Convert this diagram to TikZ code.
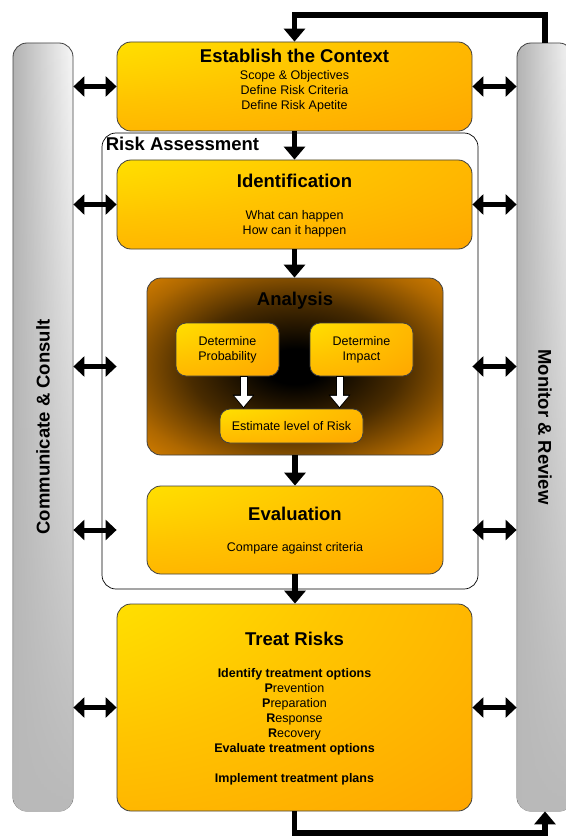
\documentclass[tikz,border=0pt]{standalone}
\usepackage{fontspec}
\setmainfont{Liberation Sans}
\usetikzlibrary{arrows.meta,calc,positioning,fadings}

\definecolor{stageyellow}{HTML}{FFF200}
\definecolor{stagegold}{HTML}{FFC400}
\definecolor{stageorange}{HTML}{FF9A00}
\definecolor{analysisorange}{HTML}{F29000}

% shadings for the stage boxes and the analysis panel
\pgfdeclareradialshading{stageglow}{\pgfpoint{-50bp}{50bp}}{%
  color(0bp)=(stageyellow); color(10bp)=(stageyellow); color(45bp)=(stagegold);
  color(85bp)=(stageorange); color(160bp)=(stageorange)}
\pgfdeclareradialshading{analysisglow}{\pgfpoint{0bp}{0bp}}{%
  color(0bp)=(black); color(5bp)=(black); color(18bp)=(analysisorange!30!black);
  color(30bp)=(analysisorange!72!black); color(41bp)=(analysisorange); color(75bp)=(analysisorange)}
% bars lose their sideways gradient towards the bottom
\tikzfading[name=fade up, top color=transparent!100, bottom color=transparent!0]

\newcommand{\stagefont}{\fontsize{18.5}{22}\selectfont\bfseries}
\newcommand{\bodyfont}{\fontsize{12.5}{15}\selectfont}

\tikzset{
  stagebox/.style={draw=black!75, line width=0.8pt, rounded corners=14pt, shade, shading=stageglow, inner sep=0pt},
  substage/.style={stagebox, rounded corners=10pt, align=center, font=\bodyfont},
  analysisbox/.style={draw=black!75, line width=0.8pt, rounded corners=14pt, shade, shading=analysisglow, inner sep=0pt},
  sidebar/.style={draw=black!75, line width=0.8pt, rounded corners=14pt, left color=gray!60, right color=gray!6, inner sep=0pt,
    postaction={fill=gray!55, path fading=fade up}},
  assessframe/.style={draw=black, line width=0.7pt, fill=white, rounded corners=14pt, inner sep=0pt},
  stagetext/.style={align=center, font=\bodyfont, inner sep=0pt},
  flow/.style={line width=5.5pt, -{Triangle[width=21pt,length=13pt]}},
  linkarrow/.style={line width=5pt, {Triangle[width=20pt,length=11pt]}-{Triangle[width=20pt,length=11pt]}}
}

\begin{document}
\begin{tikzpicture}[x=1pt,y=-1pt]
\useasboundingbox (0,0) rectangle (565,837);

% Side bars
\node[sidebar, minimum width=60, minimum height=768] (comm) at (43,427) {};
\node[sidebar, minimum width=56, minimum height=768] (mon) at (545,427) {};
\node[rotate=90, font=\stagefont] (commtext) at (comm.center) {Communicate \& Consult};
\node[rotate=-90, font=\stagefont] (montext) at (mon.center) {Monitor \& Review};

% Risk Assessment frame
\node[assessframe, minimum width=376, minimum height=456] (ra) at (290,361) {};
\node[below right=4pt and 4pt of ra.north west, font=\stagefont, inner sep=0pt] (ratext) {Risk Assessment};

% Stages
\node[stagebox, minimum width=355, minimum height=89] (ctx) at (294.5,86.5) {};
\node[stagebox, minimum width=355, minimum height=89] (ident) at (294.5,204.5) {};
\node[analysisbox, minimum width=296, minimum height=177] (analysis) at (295,366.5) {};
\node[stagebox, minimum width=296, minimum height=88] (eval) at (295,530) {};
\node[stagebox, minimum width=355, minimum height=207] (treat) at (294.5,707.5) {};

% Stage texts
\node[stagetext, below=7pt of ctx.north] (ctxtext)
  {{\stagefont Establish the Context}\\[2pt]
   Scope \& Objectives\\ Define Risk Criteria\\ Define Risk Apetite};
\node[stagetext, below=14.5pt of ident.north] (identtext)
  {{\stagefont Identification}\\[17pt]
   What can happen\\ How can it happen};
\node[font=\stagefont, inner sep=0pt, below=14.5pt of analysis.north] (analysistext) {Analysis};
\node[stagetext, below=21.5pt of eval.north] (evaltext)
  {{\stagefont Evaluation}\\[16pt]
   Compare against criteria};
\node[stagetext, below=28.5pt of treat.north] (treattext)
  {{\stagefont Treat Risks}\\[16.5pt]
   \textbf{Identify treatment options}\\
   \textbf{P}revention\\ \textbf{P}reparation\\ \textbf{R}esponse\\ \textbf{R}ecovery\\
   \textbf{Evaluate treatment options}\\[15pt]
   \textbf{Implement treatment plans}};

% Analysis steps
\node[substage, minimum width=103, minimum height=53] (prob) at (227.5,349.5) {Determine\\Probability};
\node[substage, minimum width=103, minimum height=53] (impact) at (361.5,349.5) {Determine\\Impact};
\node[substage, minimum width=143, minimum height=34] (est) at (291.5,426) {Estimate level of Risk};

\coordinate (probdrop) at ($(est.north)+(-48,0)$);
\coordinate (impdrop) at ($(est.north)+(48,0)$);
\foreach \c/\n in {probdrop/prob, impdrop/impact} {
  \draw[line width=8pt, -{Triangle[width=21pt,length=14pt]}] (\c |- \n.south) -- (\c);
  \draw[white, line width=6pt, shorten >=1.7pt, -{Triangle[width=17.5pt,length=11pt]}]
    ($(\c |- \n.south)+(0,0.8)$) -- (\c);
}

% Flow between stages
\draw[flow] (ctx.south) -- (ident.north);
\draw[flow] (ident.south) -- (ident.south |- analysis.north);
\draw[flow] (analysis.south) -- (eval.north);
\draw[flow] (eval.south) -- (eval.south |- treat.north);

% Review loop
\coordinate (looptop) at (294.5,15);
\coordinate (loopbottom) at (294.5,833);
\draw[flow] (mon.north) |- (looptop) -- (ctx.north);
\draw[flow] (treat.south) -- (loopbottom) -| (mon.south);

% Links to the side bars
\foreach \s in {ctx,ident,treat} {
  \draw[linkarrow] (comm.east |- \s.west) -- (\s.west);
  \draw[linkarrow] (\s.east) -- (mon.west |- \s.east);
}
\foreach \s in {analysis,eval} {
  \draw[linkarrow] (comm.east |- \s.west) -- (ident.west |- \s.west);
  \draw[linkarrow] (ident.east |- \s.east) -- (mon.west |- \s.east);
}
\end{tikzpicture}
\end{document}
